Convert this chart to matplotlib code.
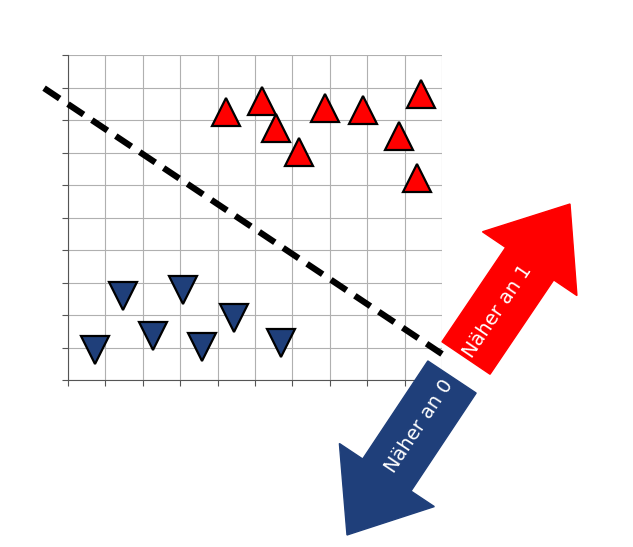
import numpy as np
import matplotlib
matplotlib.use("Agg")
import matplotlib.pyplot as plt
from matplotlib.patches import Polygon

W, H = 633, 547

# data (grid units 0..10)
red_x = [4.22, 5.19, 5.56, 6.18, 6.87, 7.89, 8.85, 9.44, 9.33]
red_y = [8.25, 8.58, 7.75, 7.02, 8.37, 8.31, 7.51, 8.80, 6.22]
blue_x = [0.72, 1.47, 2.27, 3.07, 3.58, 4.44, 5.70]
blue_y = [0.92, 2.58, 1.35, 2.77, 1.02, 1.91, 1.14]
line_x = [-0.64, 10.0]
line_y = [8.98, 0.80]

fig = plt.figure(figsize=(W / 100, H / 100), dpi=100)
ax = fig.add_axes([68 / W, 1 - 380 / H, (442 - 68) / W, (380 - 55) / H])
ax.set_xlim(0, 10)
ax.set_ylim(0, 10)
ax.set_xticks(np.arange(0, 11, 1))
ax.set_yticks(np.arange(0, 11, 1))
ax.set_xticklabels([])
ax.set_yticklabels([])
ax.tick_params(direction="out", length=4, color="#555555")
ax.grid(True, color="#b0b0b0", lw=0.8)
for s in ["top", "right"]:
    ax.spines[s].set_visible(False)
for s in ["left", "bottom"]:
    ax.spines[s].set_color("#555555")

ax.plot(line_x, line_y, ls=(0, (3, 1.6)), color="black", lw=4.5, clip_on=False, zorder=3)
ax.plot(red_x, red_y, "^", ms=20, color="#ff0000", mec="black", mew=1.6, ls="none",
        clip_on=False, zorder=4)
ax.plot(blue_x, blue_y, "v", ms=20, color="#1f3f7a", mec="black", mew=1.6, ls="none",
        clip_on=False, zorder=4)


def arrow(tail, tip, body_hw, head_hw, head_len, color, label):
    t = np.array(tail, float)
    p = np.array(tip, float)
    d = p - t
    L = np.hypot(*d)
    u = d / L
    n = np.array([-u[1], u[0]])
    b = p - u * head_len
    pts = [t + n * body_hw, b + n * body_hw, b + n * head_hw, p,
           b - n * head_hw, b - n * body_hw, t - n * body_hw]
    pts = [(x / W, 1 - y / H) for x, y in pts]
    fig.patches.append(Polygon(pts, closed=True, transform=fig.transFigure,
                               color=color, zorder=5))
    c = t + u * (L - head_len) / 2
    ang = np.degrees(np.arctan2(-d[1], d[0]))
    if ang > 90:
        ang -= 180
    if ang < -90:
        ang += 180
    fig.text(c[0] / W, 1 - c[1] / H, label, rotation=ang, color="white", fontsize=14,
             ha="center", va="center", rotation_mode="anchor", zorder=6)


arrow((466, 358), (570, 204), 29, 57, 72, "#ff0000", "Näher an 1")
arrow((452, 377), (347, 535), 29, 57, 72, "#1f3f7a", "Näher an 0")

fig.savefig("out.png", dpi=100)
